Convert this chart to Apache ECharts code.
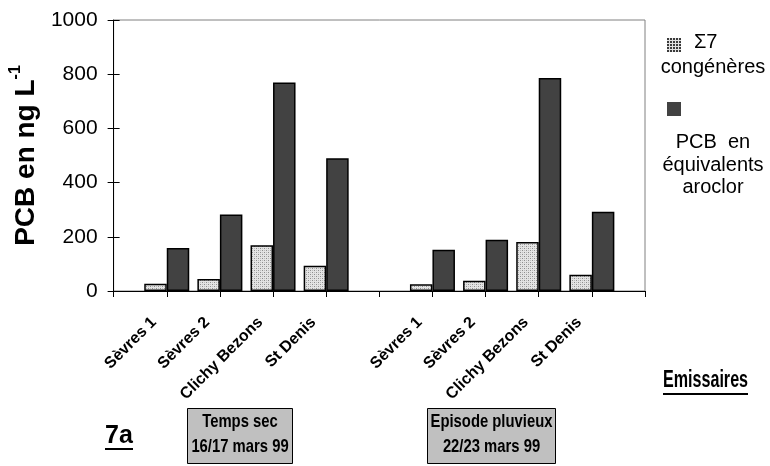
<!DOCTYPE html>
<html>
<head>
<meta charset="utf-8">
<script src="https://cdn.jsdelivr.net/npm/echarts@6/dist/echarts.min.js"></script>
<style>
  html, body { margin: 0; padding: 0; background: #fff; }
  #chart { width: 770px; height: 466px; }
</style>
</head>
<body>
<div id="chart"></div>
<script>
// Outfalls sampled in dry weather, then during the rain event (empty slots pad the axis)
const sites = ['', 'Sèvres 1', 'Sèvres 2', 'Clichy Bezons', 'St Denis', '',
               'Sèvres 1', 'Sèvres 2', 'Clichy Bezons', 'St Denis', ''];
// PCB concentrations, ng/L
const sumCongeneres = [null, 27, 44, 169, 93, null, 25, 38, 181, 60, null];
const aroclorEquiv  = [null, 159, 282, 769, 490, null, 152, 189, 786, 292, null];
const seriesNames = ['Σ7 congénères', 'PCB en équivalents aroclor'];
const yMin = 0, yMax = 1000, yStep = 200;

const FONT = 'Liberation Sans, Arial, sans-serif';

// fine stippled fill for the congener bars
function stipple() {
  const c = document.createElement('canvas');
  c.width = c.height = 4;
  const g = c.getContext('2d');
  g.fillStyle = '#e4e4e4'; g.fillRect(0, 0, 4, 4);
  g.fillStyle = '#8e8e8e'; g.fillRect(0, 0, 1, 1); g.fillRect(2, 2, 1, 1);
  g.fillStyle = '#bdbdbd'; g.fillRect(2, 0, 1, 1); g.fillRect(0, 2, 1, 1);
  return c;
}
// dense grid fill used by the legend swatch
function gridFill() {
  const c = document.createElement('canvas');
  c.width = c.height = 3;
  const g = c.getContext('2d');
  g.fillStyle = '#3a3a3a'; g.fillRect(0, 0, 3, 3);
  g.fillStyle = '#e0e0e0'; g.fillRect(2, 0, 1, 3); g.fillRect(0, 2, 3, 1);
  return c;
}

const chart = echarts.init(document.getElementById('chart'), null, { renderer: 'canvas' });

const txt = (x, y, text, opts = {}, sx = 1) => ({
  type: 'text', x, y, scaleX: sx,
  style: Object.assign({ text, fill: '#000', font: '20px ' + FONT, textAlign: 'left', textVerticalAlign: 'middle' }, opts)
});
// condensed bold captions
const NARROW = 0.78;

chart.setOption({
  animation: false,
  backgroundColor: '#fff',
  grid: { left: 113, top: 20, width: 532, height: 271, show: true, borderColor: '#808080', borderWidth: 1, containLabel: false },
  legend: {
    orient: 'vertical', left: 662, top: 33, itemWidth: 14, itemHeight: 14, itemGap: 50,
    icon: 'rect', selectedMode: false, formatter: () => '',
    data: [
      { name: seriesNames[0], itemStyle: { color: { image: gridFill(), repeat: 'repeat' }, borderWidth: 0 } },
      { name: seriesNames[1], itemStyle: { color: '#424242', borderWidth: 0 } }
    ]
  },
  xAxis: {
    type: 'category', data: sites, boundaryGap: false,
    axisLine: { lineStyle: { color: '#000', width: 1 } },
    axisTick: { interval: 0, length: 6, lineStyle: { color: '#000' } },
    axisLabel: {
      interval: 0, rotate: 45, margin: 16, padding: [0, 18, 0, 0],
      fontFamily: FONT, fontWeight: 'bold', fontSize: 16, color: '#000'
    }
  },
  yAxis: [{
    type: 'value', min: yMin, max: yMax, interval: yStep,
    axisLine: { show: true, lineStyle: { color: '#000' } },
    axisTick: { show: true, length: 6, lineStyle: { color: '#000' } },
    splitLine: { show: false },
    axisLabel: { fontFamily: FONT, fontSize: 21, color: '#000', margin: 16, formatter: v => String(v) },
    name: '{a|PCB en ng L}{b|-1}',
    nameLocation: 'middle', nameRotate: 90, nameGap: 55,
    nameTextStyle: {
      rich: {
        a: { fontFamily: FONT, fontWeight: 'bold', fontSize: 28, color: '#000', lineHeight: 32, verticalAlign: 'bottom' },
        b: { fontFamily: FONT, fontWeight: 'bold', fontSize: 16, color: '#000', lineHeight: 32, verticalAlign: 'top' }
      }
    }
  }, {
    type: 'value', min: yMin, max: yMax, interval: yStep, position: 'left',
    axisLine: { show: false }, axisLabel: { show: false }, splitLine: { show: false },
    axisTick: { show: true, inside: true, length: 6, lineStyle: { color: '#000' } }
  }],
  series: [{
    name: seriesNames[0], type: 'bar', data: sumCongeneres, barWidth: 22.5, barGap: '0%',
    itemStyle: { color: { image: stipple(), repeat: 'repeat' }, borderColor: '#000', borderWidth: 1.5 }
  }, {
    name: seriesNames[1], type: 'bar', data: aroclorEquiv, barWidth: 22.5, barGap: '0%',
    itemStyle: { color: '#424242', borderColor: '#000', borderWidth: 1.5 }
  }],
  graphic: [
    txt(694, 42, 'Σ7'),
    txt(713, 67, 'congénères', { textAlign: 'center' }),
    txt(713, 142, 'PCB  en', { textAlign: 'center' }),
    txt(713, 165, 'équivalents', { textAlign: 'center' }),
    txt(713, 187, 'aroclor', { textAlign: 'center' }),
    txt(663, 381, 'Emissaires', { font: 'bold 23px ' + FONT }, 0.7),
    { type: 'rect', shape: { x: 663, y: 393, width: 85, height: 2 }, style: { fill: '#000' } },
    txt(105, 436, '7a', { font: 'bold 25px ' + FONT }),
    { type: 'rect', shape: { x: 105, y: 448, width: 28, height: 2 }, style: { fill: '#000' } },
    { type: 'rect', shape: { x: 187.5, y: 408.5, width: 105, height: 55 }, style: { fill: '#c0c0c0', stroke: '#000', lineWidth: 1 } },
    txt(240, 422, 'Temps sec', { font: 'bold 19px ' + FONT, textAlign: 'center' }, NARROW),
    txt(240, 447, '16/17 mars 99', { font: 'bold 19px ' + FONT, textAlign: 'center' }, NARROW),
    { type: 'rect', shape: { x: 427.5, y: 408.5, width: 128, height: 55 }, style: { fill: '#c0c0c0', stroke: '#000', lineWidth: 1 } },
    txt(491.5, 422, 'Episode pluvieux', { font: 'bold 19px ' + FONT, textAlign: 'center' }, NARROW),
    txt(491.5, 447, '22/23 mars 99', { font: 'bold 19px ' + FONT, textAlign: 'center' }, NARROW)
  ]
});
</script>
</body>
</html>
